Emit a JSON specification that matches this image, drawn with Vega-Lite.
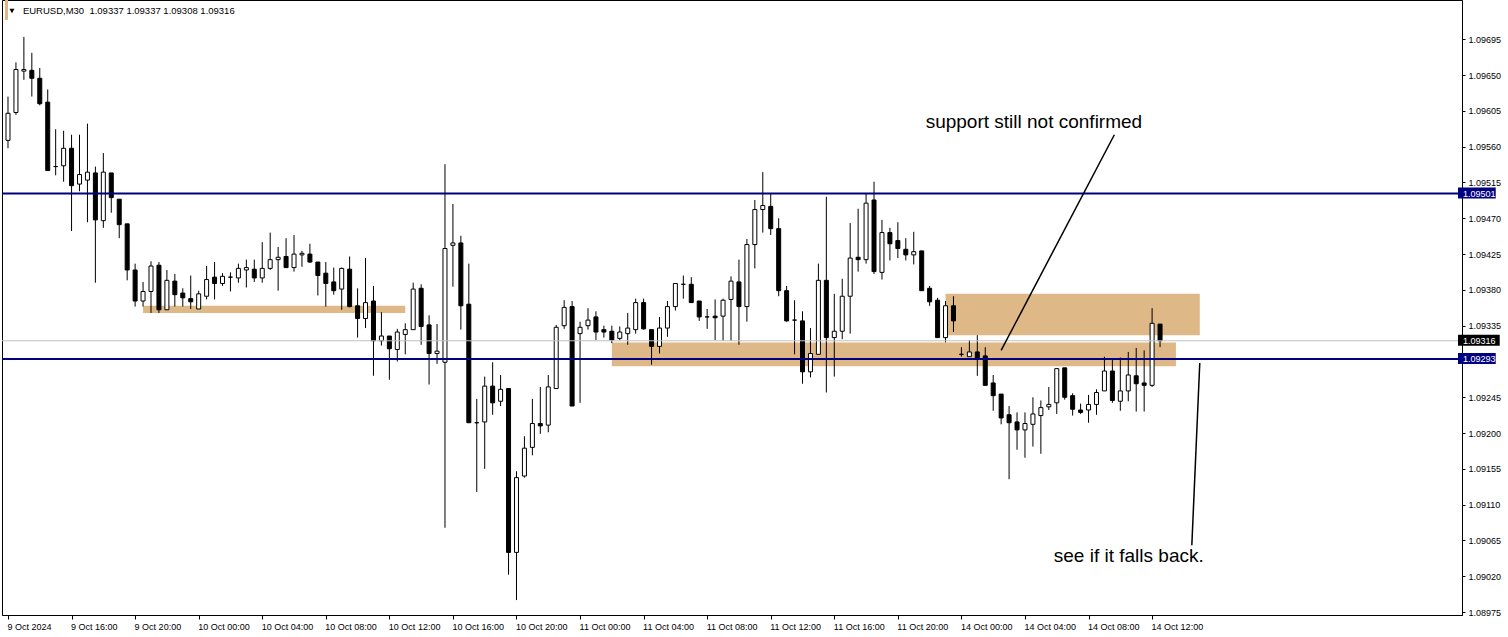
{
  "$schema": "https://vega.github.io/schema/vega-lite/v6.json",
  "width": 1460,
  "height": 615,
  "autosize": {"type": "none"},
  "padding": {"left": 2, "top": 0, "right": 46, "bottom": 22},
  "background": "white",
  "config": {
    "view": {"stroke": "black", "strokeWidth": 1},
    "font": "Liberation Sans",
    "axis": {"grid": false, "title": null, "labelFont": "Liberation Sans", "labelFontSize": 9, "labelColor": "black", "domainColor": "black", "tickColor": "black", "labelOverlap": false, "labelFlush": false, "labelSeparation": 0}
  },
  "datasets": {
    "candles": [
      {"i":0,"o":1.09568,"h":1.09623,"l":1.09558,"c":1.09602},
      {"i":1,"o":1.09603,"h":1.09666,"l":1.09600,"c":1.09657},
      {"i":2,"o":1.09655,"h":1.09698,"l":1.09644,"c":1.09657},
      {"i":3,"o":1.09656,"h":1.09678,"l":1.09623,"c":1.09646},
      {"i":4,"o":1.09646,"h":1.09659,"l":1.09612,"c":1.09614},
      {"i":5,"o":1.09616,"h":1.09632,"l":1.09530,"c":1.09530},
      {"i":6,"o":1.09535,"h":1.09582,"l":1.09524,"c":1.09535},
      {"i":7,"o":1.09536,"h":1.09580,"l":1.09516,"c":1.09558},
      {"i":8,"o":1.09558,"h":1.09575,"l":1.09454,"c":1.09511},
      {"i":9,"o":1.09513,"h":1.09575,"l":1.09504,"c":1.09525},
      {"i":10,"o":1.09518,"h":1.09589,"l":1.09465,"c":1.09528},
      {"i":11,"o":1.09527,"h":1.09535,"l":1.09389,"c":1.09468},
      {"i":12,"o":1.09467,"h":1.09552,"l":1.09458,"c":1.09528},
      {"i":13,"o":1.09527,"h":1.09527,"l":1.09477,"c":1.09496},
      {"i":14,"o":1.09494,"h":1.09494,"l":1.09445,"c":1.09462},
      {"i":15,"o":1.09463,"h":1.09463,"l":1.09392,"c":1.09405},
      {"i":16,"o":1.09405,"h":1.09413,"l":1.09359,"c":1.09366},
      {"i":17,"o":1.09366,"h":1.09390,"l":1.09359,"c":1.09378},
      {"i":18,"o":1.09378,"h":1.09416,"l":1.09351,"c":1.09410},
      {"i":19,"o":1.09411,"h":1.09415,"l":1.09351,"c":1.09355},
      {"i":20,"o":1.09355,"h":1.09405,"l":1.09355,"c":1.09392},
      {"i":21,"o":1.09391,"h":1.09400,"l":1.09359,"c":1.09374},
      {"i":22,"o":1.09376,"h":1.09382,"l":1.09359,"c":1.09370},
      {"i":23,"o":1.09369,"h":1.09398,"l":1.09356,"c":1.09365},
      {"i":24,"o":1.09356,"h":1.09379,"l":1.09356,"c":1.09375},
      {"i":25,"o":1.09372,"h":1.09410,"l":1.09368,"c":1.09393},
      {"i":26,"o":1.09396,"h":1.09415,"l":1.09368,"c":1.09388},
      {"i":27,"o":1.09388,"h":1.09401,"l":1.09385,"c":1.09397},
      {"i":28,"o":1.09396,"h":1.09402,"l":1.09378,"c":1.09396},
      {"i":29,"o":1.09395,"h":1.09413,"l":1.09389,"c":1.09407},
      {"i":30,"o":1.09405,"h":1.09418,"l":1.09383,"c":1.09408},
      {"i":31,"o":1.09406,"h":1.09418,"l":1.09390,"c":1.09395},
      {"i":32,"o":1.09395,"h":1.09440,"l":1.09389,"c":1.09407},
      {"i":33,"o":1.09407,"h":1.09452,"l":1.09405,"c":1.09418},
      {"i":34,"o":1.09418,"h":1.09434,"l":1.09379,"c":1.09421},
      {"i":35,"o":1.09422,"h":1.09445,"l":1.09408,"c":1.09408},
      {"i":36,"o":1.09408,"h":1.09449,"l":1.09403,"c":1.09425},
      {"i":37,"o":1.09424,"h":1.09429,"l":1.09409,"c":1.09426},
      {"i":38,"o":1.09425,"h":1.09438,"l":1.09414,"c":1.09415},
      {"i":39,"o":1.09415,"h":1.09415,"l":1.09373,"c":1.09398},
      {"i":40,"o":1.09401,"h":1.09415,"l":1.09359,"c":1.09388},
      {"i":41,"o":1.09390,"h":1.09408,"l":1.09374,"c":1.09379},
      {"i":42,"o":1.09381,"h":1.09408,"l":1.09355,"c":1.09407},
      {"i":43,"o":1.09406,"h":1.09422,"l":1.09358,"c":1.09359},
      {"i":44,"o":1.09360,"h":1.09382,"l":1.09320,"c":1.09344},
      {"i":45,"o":1.09344,"h":1.09420,"l":1.09332,"c":1.09364},
      {"i":46,"o":1.09366,"h":1.09385,"l":1.09272,"c":1.09316},
      {"i":47,"o":1.09316,"h":1.09352,"l":1.09310,"c":1.09322},
      {"i":48,"o":1.09322,"h":1.09322,"l":1.09267,"c":1.09306},
      {"i":49,"o":1.09305,"h":1.09331,"l":1.09290,"c":1.09327},
      {"i":50,"o":1.09324,"h":1.09338,"l":1.09299,"c":1.09330},
      {"i":51,"o":1.09330,"h":1.09389,"l":1.09330,"c":1.09381},
      {"i":52,"o":1.09382,"h":1.09387,"l":1.09311,"c":1.09334},
      {"i":53,"o":1.09336,"h":1.09348,"l":1.09261,"c":1.09300},
      {"i":54,"o":1.09300,"h":1.09337,"l":1.09287,"c":1.09303},
      {"i":55,"o":1.09289,"h":1.09538,"l":1.09081,"c":1.09432},
      {"i":56,"o":1.09436,"h":1.09488,"l":1.09384,"c":1.09439},
      {"i":57,"o":1.09439,"h":1.09448,"l":1.09330,"c":1.09360},
      {"i":58,"o":1.09362,"h":1.09413,"l":1.09213,"c":1.09213},
      {"i":59,"o":1.09213,"h":1.09243,"l":1.09126,"c":1.09213},
      {"i":60,"o":1.09214,"h":1.09271,"l":1.09155,"c":1.09259},
      {"i":61,"o":1.09259,"h":1.09289,"l":1.09223,"c":1.09238},
      {"i":62,"o":1.09240,"h":1.09273,"l":1.09234,"c":1.09255},
      {"i":63,"o":1.09256,"h":1.09256,"l":1.09022,"c":1.09050},
      {"i":64,"o":1.09050,"h":1.09152,"l":1.08990,"c":1.09144},
      {"i":65,"o":1.09146,"h":1.09196,"l":1.09144,"c":1.09181},
      {"i":66,"o":1.09182,"h":1.09243,"l":1.09172,"c":1.09212},
      {"i":67,"o":1.09212,"h":1.09258,"l":1.09199,"c":1.09209},
      {"i":68,"o":1.09210,"h":1.09273,"l":1.09201,"c":1.09258},
      {"i":69,"o":1.09256,"h":1.09336,"l":1.09256,"c":1.09333},
      {"i":70,"o":1.09335,"h":1.09367,"l":1.09331,"c":1.09358},
      {"i":71,"o":1.09359,"h":1.09366,"l":1.09234,"c":1.09234},
      {"i":72,"o":1.09325,"h":1.09340,"l":1.09238,"c":1.09333},
      {"i":73,"o":1.09335,"h":1.09357,"l":1.09330,"c":1.09342},
      {"i":74,"o":1.09346,"h":1.09353,"l":1.09317,"c":1.09327},
      {"i":75,"o":1.09330,"h":1.09335,"l":1.09320,"c":1.09327},
      {"i":76,"o":1.09328,"h":1.09335,"l":1.09313,"c":1.09317},
      {"i":77,"o":1.09319,"h":1.09334,"l":1.09317,"c":1.09327},
      {"i":78,"o":1.09325,"h":1.09351,"l":1.09311,"c":1.09332},
      {"i":79,"o":1.09330,"h":1.09369,"l":1.09325,"c":1.09364},
      {"i":80,"o":1.09364,"h":1.09369,"l":1.09330,"c":1.09331},
      {"i":81,"o":1.09330,"h":1.09330,"l":1.09286,"c":1.09309},
      {"i":82,"o":1.09309,"h":1.09346,"l":1.09300,"c":1.09332},
      {"i":83,"o":1.09332,"h":1.09366,"l":1.09321,"c":1.09359},
      {"i":84,"o":1.09359,"h":1.09388,"l":1.09354,"c":1.09388},
      {"i":85,"o":1.09387,"h":1.09398,"l":1.09369,"c":1.09387},
      {"i":86,"o":1.09387,"h":1.09396,"l":1.09364,"c":1.09364},
      {"i":87,"o":1.09366,"h":1.09366,"l":1.09341,"c":1.09346},
      {"i":88,"o":1.09346,"h":1.09356,"l":1.09331,"c":1.09346},
      {"i":89,"o":1.09347,"h":1.09368,"l":1.09317,"c":1.09345},
      {"i":90,"o":1.09347,"h":1.09369,"l":1.09316,"c":1.09367},
      {"i":91,"o":1.09368,"h":1.09397,"l":1.09316,"c":1.09391},
      {"i":92,"o":1.09390,"h":1.09418,"l":1.09311,"c":1.09359},
      {"i":93,"o":1.09359,"h":1.09444,"l":1.09340,"c":1.09437},
      {"i":94,"o":1.09437,"h":1.09493,"l":1.09407,"c":1.09481},
      {"i":95,"o":1.09481,"h":1.09528,"l":1.09452,"c":1.09486},
      {"i":96,"o":1.09485,"h":1.09501,"l":1.09449,"c":1.09457},
      {"i":97,"o":1.09457,"h":1.09470,"l":1.09372,"c":1.09379},
      {"i":98,"o":1.09379,"h":1.09385,"l":1.09340,"c":1.09341},
      {"i":99,"o":1.09342,"h":1.09367,"l":1.09299,"c":1.09342},
      {"i":100,"o":1.09341,"h":1.09353,"l":1.09262,"c":1.09277},
      {"i":101,"o":1.09277,"h":1.09332,"l":1.09270,"c":1.09300},
      {"i":102,"o":1.09299,"h":1.09413,"l":1.09299,"c":1.09392},
      {"i":103,"o":1.09392,"h":1.09497,"l":1.09251,"c":1.09320},
      {"i":104,"o":1.09320,"h":1.09375,"l":1.09271,"c":1.09328},
      {"i":105,"o":1.09328,"h":1.09394,"l":1.09318,"c":1.09372},
      {"i":106,"o":1.09372,"h":1.09464,"l":1.09325,"c":1.09420},
      {"i":107,"o":1.09421,"h":1.09482,"l":1.09403,"c":1.09418},
      {"i":108,"o":1.09418,"h":1.09501,"l":1.09413,"c":1.09489},
      {"i":109,"o":1.09493,"h":1.09516,"l":1.09400,"c":1.09403},
      {"i":110,"o":1.09402,"h":1.09468,"l":1.09393,"c":1.09452},
      {"i":111,"o":1.09452,"h":1.09458,"l":1.09417,"c":1.09438},
      {"i":112,"o":1.09442,"h":1.09465,"l":1.09420,"c":1.09432},
      {"i":113,"o":1.09431,"h":1.09445,"l":1.09417,"c":1.09424},
      {"i":114,"o":1.09424,"h":1.09453,"l":1.09412,"c":1.09428},
      {"i":115,"o":1.09429,"h":1.09429,"l":1.09379,"c":1.09379},
      {"i":116,"o":1.09382,"h":1.09385,"l":1.09360,"c":1.09365},
      {"i":117,"o":1.09367,"h":1.09370,"l":1.09320,"c":1.09320},
      {"i":118,"o":1.09320,"h":1.09366,"l":1.09314,"c":1.09360},
      {"i":119,"o":1.09360,"h":1.09372,"l":1.09327,"c":1.09341},
      {"i":120,"o":1.09299,"h":1.09308,"l":1.09296,"c":1.09299},
      {"i":121,"o":1.09296,"h":1.09317,"l":1.09296,"c":1.09302},
      {"i":122,"o":1.09302,"h":1.09323,"l":1.09272,"c":1.09294},
      {"i":123,"o":1.09297,"h":1.09308,"l":1.09260,"c":1.09260},
      {"i":124,"o":1.09263,"h":1.09273,"l":1.09228,"c":1.09247},
      {"i":125,"o":1.09249,"h":1.09249,"l":1.09211,"c":1.09219},
      {"i":126,"o":1.09223,"h":1.09234,"l":1.09142,"c":1.09213},
      {"i":127,"o":1.09214,"h":1.09226,"l":1.09179,"c":1.09204},
      {"i":128,"o":1.09204,"h":1.09226,"l":1.09169,"c":1.09212},
      {"i":129,"o":1.09211,"h":1.09245,"l":1.09183,"c":1.09224},
      {"i":130,"o":1.09222,"h":1.09241,"l":1.09174,"c":1.09232},
      {"i":131,"o":1.09233,"h":1.09258,"l":1.09229,"c":1.09236},
      {"i":132,"o":1.09238,"h":1.09281,"l":1.09224,"c":1.09281},
      {"i":133,"o":1.09282,"h":1.09282,"l":1.09242,"c":1.09245},
      {"i":134,"o":1.09247,"h":1.09250,"l":1.09222,"c":1.09230},
      {"i":135,"o":1.09229,"h":1.09237,"l":1.09224,"c":1.09226},
      {"i":136,"o":1.09229,"h":1.09248,"l":1.09213,"c":1.09236},
      {"i":137,"o":1.09236,"h":1.09255,"l":1.09223,"c":1.09251},
      {"i":138,"o":1.09253,"h":1.09296,"l":1.09253,"c":1.09278},
      {"i":139,"o":1.09278,"h":1.09292,"l":1.09238,"c":1.09241},
      {"i":140,"o":1.09240,"h":1.09295,"l":1.09228,"c":1.09253},
      {"i":141,"o":1.09253,"h":1.09302,"l":1.09240,"c":1.09273},
      {"i":142,"o":1.09272,"h":1.09307,"l":1.09227,"c":1.09262},
      {"i":143,"o":1.09263,"h":1.09304,"l":1.09227,"c":1.09260},
      {"i":144,"o":1.09260,"h":1.09357,"l":1.09258,"c":1.09338},
      {"i":145,"o":1.09337,"h":1.09337,"l":1.09308,"c":1.09316}
    ],
    "zones": [
      {"i1":17,"i2":50,"p1":1.09360,"p2":1.09351},
      {"i1":76,"i2":147,"p1":1.09314,"p2":1.09284},
      {"i1":118,"i2":150,"p1":1.09375,"p2":1.09323}
    ],
    "levels": [{"p":1.09501,"tag":"1.09501"},{"p":1.09293,"tag":"1.09293"}],
    "bid": [{"p":1.09316,"tag":"1.09316"}],
    "trend": [
      {"i1":125,"p1":1.09304,"i2":139.25,"p2":1.09575},
      {"i1":150,"p1":1.09288,"i2":149,"p2":1.09059}
    ],
    "notes": [
      {"i":115.5,"p":1.09591,"txt":"support still not confirmed"},
      {"i":131.625,"p":1.09046,"txt":"see if it falls back."}
    ],
    "header": [{"i":1.875,"p":1.097306,"top":1.097444,"bottom":1.097193,"txt":"EURUSD,M30\u00a0\u00a01.09337 1.09337 1.09308 1.09316"}]
  },
  "layer": [
    {
      "data": {"name": "zones"},
      "mark": {"type": "rect", "fill": "#DEB887", "clip": true},
      "encoding": {
        "x": {"field": "i1", "type": "quantitative", "scale": {"domain": [-0.125, 182.375], "nice": false, "zero": false},
          "axis": {"title": null, "orient": "bottom", "values": [0,8,16,24,32,40,48,56,64,72,80,88,96,104,112,120,128,136,144], "labelExpr": "['9 Oct 2024','9 Oct 16:00','9 Oct 20:00','10 Oct 00:00','10 Oct 04:00','10 Oct 08:00','10 Oct 12:00','10 Oct 16:00','10 Oct 20:00','11 Oct 00:00','11 Oct 04:00','11 Oct 08:00','11 Oct 12:00','11 Oct 16:00','11 Oct 20:00','14 Oct 00:00','14 Oct 04:00','14 Oct 08:00','14 Oct 12:00'][round(datum.value/8)]", "labelAlign": "left", "labelBaseline": "alphabetic", "tickSize": 4, "labelPadding": 10, "labelOffset": -1, "labelOverlap": false}},
        "x2": {"field": "i2"},
        "y": {"field": "p1", "type": "quantitative", "scale": {"domain": [1.089713, 1.097444], "nice": false, "zero": false},
          "axis": {"title": null, "orient": "right", "values": [1.08975,1.0902,1.09065,1.0911,1.09155,1.092,1.09245,1.0929,1.09335,1.0938,1.09425,1.0947,1.09515,1.0956,1.09605,1.0965,1.09695], "labelExpr": "abs(datum.value - 1.0929) < 0.00001 ? '' : format(datum.value, '.5f')", "labelAlign": "left", "labelBaseline": "middle", "tickSize": 3, "labelPadding": 3, "labelOverlap": false}},
        "y2": {"field": "p2"}
      }
    },
    {
      "data": {"name": "candles"},
      "mark": {"type": "rule", "color": "black", "strokeWidth": 1, "clip": true},
      "encoding": {
        "x": {"field": "i", "type": "quantitative", "scale": {"domain": [-0.125, 182.375], "nice": false, "zero": false},
          "axis": {"title": null, "orient": "bottom", "values": [0,8,16,24,32,40,48,56,64,72,80,88,96,104,112,120,128,136,144], "labelExpr": "['9 Oct 2024','9 Oct 16:00','9 Oct 20:00','10 Oct 00:00','10 Oct 04:00','10 Oct 08:00','10 Oct 12:00','10 Oct 16:00','10 Oct 20:00','11 Oct 00:00','11 Oct 04:00','11 Oct 08:00','11 Oct 12:00','11 Oct 16:00','11 Oct 20:00','14 Oct 00:00','14 Oct 04:00','14 Oct 08:00','14 Oct 12:00'][round(datum.value/8)]", "labelAlign": "left", "labelBaseline": "alphabetic", "tickSize": 4, "labelPadding": 10, "labelOffset": -1, "labelOverlap": false}},
        "y": {"field": "l", "type": "quantitative", "scale": {"domain": [1.089713, 1.097444], "nice": false, "zero": false},
          "axis": {"title": null, "orient": "right", "values": [1.08975,1.0902,1.09065,1.0911,1.09155,1.092,1.09245,1.0929,1.09335,1.0938,1.09425,1.0947,1.09515,1.0956,1.09605,1.0965,1.09695], "labelExpr": "abs(datum.value - 1.0929) < 0.00001 ? '' : format(datum.value, '.5f')", "labelAlign": "left", "labelBaseline": "middle", "tickSize": 3, "labelPadding": 3, "labelOverlap": false}},
        "y2": {"field": "h"}
      }
    },
    {
      "data": {"name": "candles"},
      "mark": {"type": "bar", "width": 4, "stroke": "black", "strokeWidth": 1, "clip": true},
      "encoding": {
        "x": {"field": "i", "type": "quantitative", "scale": {"domain": [-0.125, 182.375], "nice": false, "zero": false},
          "axis": {"title": null, "orient": "bottom", "values": [0,8,16,24,32,40,48,56,64,72,80,88,96,104,112,120,128,136,144], "labelExpr": "['9 Oct 2024','9 Oct 16:00','9 Oct 20:00','10 Oct 00:00','10 Oct 04:00','10 Oct 08:00','10 Oct 12:00','10 Oct 16:00','10 Oct 20:00','11 Oct 00:00','11 Oct 04:00','11 Oct 08:00','11 Oct 12:00','11 Oct 16:00','11 Oct 20:00','14 Oct 00:00','14 Oct 04:00','14 Oct 08:00','14 Oct 12:00'][round(datum.value/8)]", "labelAlign": "left", "labelBaseline": "alphabetic", "tickSize": 4, "labelPadding": 10, "labelOffset": -1, "labelOverlap": false}},
        "y": {"field": "o", "type": "quantitative", "scale": {"domain": [1.089713, 1.097444], "nice": false, "zero": false},
          "axis": {"title": null, "orient": "right", "values": [1.08975,1.0902,1.09065,1.0911,1.09155,1.092,1.09245,1.0929,1.09335,1.0938,1.09425,1.0947,1.09515,1.0956,1.09605,1.0965,1.09695], "labelExpr": "abs(datum.value - 1.0929) < 0.00001 ? '' : format(datum.value, '.5f')", "labelAlign": "left", "labelBaseline": "middle", "tickSize": 3, "labelPadding": 3, "labelOverlap": false}},
        "y2": {"field": "c"},
        "fill": {"condition": {"test": "datum.c >= datum.o", "value": "white"}, "value": "black"}
      }
    },
    {
      "data": {"name": "bid"},
      "mark": {"type": "rule", "color": "#C0C0C0", "strokeWidth": 1},
      "encoding": {
        "y": {"field": "p", "type": "quantitative", "scale": {"domain": [1.089713, 1.097444], "nice": false, "zero": false},
          "axis": {"title": null, "orient": "right", "values": [1.08975,1.0902,1.09065,1.0911,1.09155,1.092,1.09245,1.0929,1.09335,1.0938,1.09425,1.0947,1.09515,1.0956,1.09605,1.0965,1.09695], "labelExpr": "abs(datum.value - 1.0929) < 0.00001 ? '' : format(datum.value, '.5f')", "labelAlign": "left", "labelBaseline": "middle", "tickSize": 3, "labelPadding": 3, "labelOverlap": false}}
      }
    },
    {
      "data": {"name": "levels"},
      "mark": {"type": "rule", "color": "#000080", "strokeWidth": 2},
      "encoding": {
        "y": {"field": "p", "type": "quantitative", "scale": {"domain": [1.089713, 1.097444], "nice": false, "zero": false},
          "axis": {"title": null, "orient": "right", "values": [1.08975,1.0902,1.09065,1.0911,1.09155,1.092,1.09245,1.0929,1.09335,1.0938,1.09425,1.0947,1.09515,1.0956,1.09605,1.0965,1.09695], "labelExpr": "abs(datum.value - 1.0929) < 0.00001 ? '' : format(datum.value, '.5f')", "labelAlign": "left", "labelBaseline": "middle", "tickSize": 3, "labelPadding": 3, "labelOverlap": false}}
      }
    },
    {
      "data": {"name": "trend"},
      "mark": {"type": "rule", "color": "black", "strokeWidth": 1.5},
      "encoding": {
        "x": {"field": "i1", "type": "quantitative", "scale": {"domain": [-0.125, 182.375], "nice": false, "zero": false},
          "axis": {"title": null, "orient": "bottom", "values": [0,8,16,24,32,40,48,56,64,72,80,88,96,104,112,120,128,136,144], "labelExpr": "['9 Oct 2024','9 Oct 16:00','9 Oct 20:00','10 Oct 00:00','10 Oct 04:00','10 Oct 08:00','10 Oct 12:00','10 Oct 16:00','10 Oct 20:00','11 Oct 00:00','11 Oct 04:00','11 Oct 08:00','11 Oct 12:00','11 Oct 16:00','11 Oct 20:00','14 Oct 00:00','14 Oct 04:00','14 Oct 08:00','14 Oct 12:00'][round(datum.value/8)]", "labelAlign": "left", "labelBaseline": "alphabetic", "tickSize": 4, "labelPadding": 10, "labelOffset": -1, "labelOverlap": false}},
        "x2": {"field": "i2"},
        "y": {"field": "p1", "type": "quantitative", "scale": {"domain": [1.089713, 1.097444], "nice": false, "zero": false},
          "axis": {"title": null, "orient": "right", "values": [1.08975,1.0902,1.09065,1.0911,1.09155,1.092,1.09245,1.0929,1.09335,1.0938,1.09425,1.0947,1.09515,1.0956,1.09605,1.0965,1.09695], "labelExpr": "abs(datum.value - 1.0929) < 0.00001 ? '' : format(datum.value, '.5f')", "labelAlign": "left", "labelBaseline": "middle", "tickSize": 3, "labelPadding": 3, "labelOverlap": false}},
        "y2": {"field": "p2"}
      }
    },
    {
      "data": {"name": "notes"},
      "mark": {"type": "text", "align": "left", "baseline": "middle", "font": "Liberation Sans", "fontSize": 19, "color": "black"},
      "encoding": {
        "x": {"field": "i", "type": "quantitative", "scale": {"domain": [-0.125, 182.375], "nice": false, "zero": false},
          "axis": {"title": null, "orient": "bottom", "values": [0,8,16,24,32,40,48,56,64,72,80,88,96,104,112,120,128,136,144], "labelExpr": "['9 Oct 2024','9 Oct 16:00','9 Oct 20:00','10 Oct 00:00','10 Oct 04:00','10 Oct 08:00','10 Oct 12:00','10 Oct 16:00','10 Oct 20:00','11 Oct 00:00','11 Oct 04:00','11 Oct 08:00','11 Oct 12:00','11 Oct 16:00','11 Oct 20:00','14 Oct 00:00','14 Oct 04:00','14 Oct 08:00','14 Oct 12:00'][round(datum.value/8)]", "labelAlign": "left", "labelBaseline": "alphabetic", "tickSize": 4, "labelPadding": 10, "labelOffset": -1, "labelOverlap": false}},
        "y": {"field": "p", "type": "quantitative", "scale": {"domain": [1.089713, 1.097444], "nice": false, "zero": false},
          "axis": {"title": null, "orient": "right", "values": [1.08975,1.0902,1.09065,1.0911,1.09155,1.092,1.09245,1.0929,1.09335,1.0938,1.09425,1.0947,1.09515,1.0956,1.09605,1.0965,1.09695], "labelExpr": "abs(datum.value - 1.0929) < 0.00001 ? '' : format(datum.value, '.5f')", "labelAlign": "left", "labelBaseline": "middle", "tickSize": 3, "labelPadding": 3, "labelOverlap": false}},
        "text": {"field": "txt"}
      }
    },
    {
      "data": {"name": "levels"},
      "mark": {"type": "rect", "fill": "#000080", "yOffset": -6, "y2Offset": 5},
      "encoding": {
        "x": {"datum": 182.5, "type": "quantitative", "scale": {"domain": [-0.125, 182.375], "nice": false, "zero": false},
          "axis": {"title": null, "orient": "bottom", "values": [0,8,16,24,32,40,48,56,64,72,80,88,96,104,112,120,128,136,144], "labelExpr": "['9 Oct 2024','9 Oct 16:00','9 Oct 20:00','10 Oct 00:00','10 Oct 04:00','10 Oct 08:00','10 Oct 12:00','10 Oct 16:00','10 Oct 20:00','11 Oct 00:00','11 Oct 04:00','11 Oct 08:00','11 Oct 12:00','11 Oct 16:00','11 Oct 20:00','14 Oct 00:00','14 Oct 04:00','14 Oct 08:00','14 Oct 12:00'][round(datum.value/8)]", "labelAlign": "left", "labelBaseline": "alphabetic", "tickSize": 4, "labelPadding": 10, "labelOffset": -1, "labelOverlap": false}},
        "x2": {"datum": 187.25},
        "y": {"field": "p", "type": "quantitative", "scale": {"domain": [1.089713, 1.097444], "nice": false, "zero": false},
          "axis": {"title": null, "orient": "right", "values": [1.08975,1.0902,1.09065,1.0911,1.09155,1.092,1.09245,1.0929,1.09335,1.0938,1.09425,1.0947,1.09515,1.0956,1.09605,1.0965,1.09695], "labelExpr": "abs(datum.value - 1.0929) < 0.00001 ? '' : format(datum.value, '.5f')", "labelAlign": "left", "labelBaseline": "middle", "tickSize": 3, "labelPadding": 3, "labelOverlap": false}},
        "y2": {"field": "p"}
      }
    },
    {
      "data": {"name": "bid"},
      "mark": {"type": "rect", "fill": "black", "yOffset": -6, "y2Offset": 5},
      "encoding": {
        "x": {"datum": 182.5, "type": "quantitative", "scale": {"domain": [-0.125, 182.375], "nice": false, "zero": false},
          "axis": {"title": null, "orient": "bottom", "values": [0,8,16,24,32,40,48,56,64,72,80,88,96,104,112,120,128,136,144], "labelExpr": "['9 Oct 2024','9 Oct 16:00','9 Oct 20:00','10 Oct 00:00','10 Oct 04:00','10 Oct 08:00','10 Oct 12:00','10 Oct 16:00','10 Oct 20:00','11 Oct 00:00','11 Oct 04:00','11 Oct 08:00','11 Oct 12:00','11 Oct 16:00','11 Oct 20:00','14 Oct 00:00','14 Oct 04:00','14 Oct 08:00','14 Oct 12:00'][round(datum.value/8)]", "labelAlign": "left", "labelBaseline": "alphabetic", "tickSize": 4, "labelPadding": 10, "labelOffset": -1, "labelOverlap": false}},
        "x2": {"datum": 187.75},
        "y": {"field": "p", "type": "quantitative", "scale": {"domain": [1.089713, 1.097444], "nice": false, "zero": false},
          "axis": {"title": null, "orient": "right", "values": [1.08975,1.0902,1.09065,1.0911,1.09155,1.092,1.09245,1.0929,1.09335,1.0938,1.09425,1.0947,1.09515,1.0956,1.09605,1.0965,1.09695], "labelExpr": "abs(datum.value - 1.0929) < 0.00001 ? '' : format(datum.value, '.5f')", "labelAlign": "left", "labelBaseline": "middle", "tickSize": 3, "labelPadding": 3, "labelOverlap": false}},
        "y2": {"field": "p"}
      }
    },
    {
      "data": {"name": "levels"},
      "mark": {"type": "text", "align": "left", "baseline": "middle", "font": "Liberation Sans", "fontSize": 9, "color": "white"},
      "encoding": {
        "x": {"datum": 183.125, "type": "quantitative", "scale": {"domain": [-0.125, 182.375], "nice": false, "zero": false},
          "axis": {"title": null, "orient": "bottom", "values": [0,8,16,24,32,40,48,56,64,72,80,88,96,104,112,120,128,136,144], "labelExpr": "['9 Oct 2024','9 Oct 16:00','9 Oct 20:00','10 Oct 00:00','10 Oct 04:00','10 Oct 08:00','10 Oct 12:00','10 Oct 16:00','10 Oct 20:00','11 Oct 00:00','11 Oct 04:00','11 Oct 08:00','11 Oct 12:00','11 Oct 16:00','11 Oct 20:00','14 Oct 00:00','14 Oct 04:00','14 Oct 08:00','14 Oct 12:00'][round(datum.value/8)]", "labelAlign": "left", "labelBaseline": "alphabetic", "tickSize": 4, "labelPadding": 10, "labelOffset": -1, "labelOverlap": false}},
        "y": {"field": "p", "type": "quantitative", "scale": {"domain": [1.089713, 1.097444], "nice": false, "zero": false},
          "axis": {"title": null, "orient": "right", "values": [1.08975,1.0902,1.09065,1.0911,1.09155,1.092,1.09245,1.0929,1.09335,1.0938,1.09425,1.0947,1.09515,1.0956,1.09605,1.0965,1.09695], "labelExpr": "abs(datum.value - 1.0929) < 0.00001 ? '' : format(datum.value, '.5f')", "labelAlign": "left", "labelBaseline": "middle", "tickSize": 3, "labelPadding": 3, "labelOverlap": false}},
        "text": {"field": "tag"}
      }
    },
    {
      "data": {"name": "bid"},
      "mark": {"type": "text", "align": "left", "baseline": "middle", "font": "Liberation Sans", "fontSize": 9, "color": "white"},
      "encoding": {
        "x": {"datum": 183.125, "type": "quantitative", "scale": {"domain": [-0.125, 182.375], "nice": false, "zero": false},
          "axis": {"title": null, "orient": "bottom", "values": [0,8,16,24,32,40,48,56,64,72,80,88,96,104,112,120,128,136,144], "labelExpr": "['9 Oct 2024','9 Oct 16:00','9 Oct 20:00','10 Oct 00:00','10 Oct 04:00','10 Oct 08:00','10 Oct 12:00','10 Oct 16:00','10 Oct 20:00','11 Oct 00:00','11 Oct 04:00','11 Oct 08:00','11 Oct 12:00','11 Oct 16:00','11 Oct 20:00','14 Oct 00:00','14 Oct 04:00','14 Oct 08:00','14 Oct 12:00'][round(datum.value/8)]", "labelAlign": "left", "labelBaseline": "alphabetic", "tickSize": 4, "labelPadding": 10, "labelOffset": -1, "labelOverlap": false}},
        "y": {"field": "p", "type": "quantitative", "scale": {"domain": [1.089713, 1.097444], "nice": false, "zero": false},
          "axis": {"title": null, "orient": "right", "values": [1.08975,1.0902,1.09065,1.0911,1.09155,1.092,1.09245,1.0929,1.09335,1.0938,1.09425,1.0947,1.09515,1.0956,1.09605,1.0965,1.09695], "labelExpr": "abs(datum.value - 1.0929) < 0.00001 ? '' : format(datum.value, '.5f')", "labelAlign": "left", "labelBaseline": "middle", "tickSize": 3, "labelPadding": 3, "labelOverlap": false}},
        "text": {"field": "tag"}
      }
    },
    {
      "data": {"name": "header"},
      "mark": {"type": "rect", "fill": "#DEB887"},
      "encoding": {
        "x": {"datum": -0.375, "type": "quantitative", "scale": {"domain": [-0.125, 182.375], "nice": false, "zero": false},
          "axis": {"title": null, "orient": "bottom", "values": [0,8,16,24,32,40,48,56,64,72,80,88,96,104,112,120,128,136,144], "labelExpr": "['9 Oct 2024','9 Oct 16:00','9 Oct 20:00','10 Oct 00:00','10 Oct 04:00','10 Oct 08:00','10 Oct 12:00','10 Oct 16:00','10 Oct 20:00','11 Oct 00:00','11 Oct 04:00','11 Oct 08:00','11 Oct 12:00','11 Oct 16:00','11 Oct 20:00','14 Oct 00:00','14 Oct 04:00','14 Oct 08:00','14 Oct 12:00'][round(datum.value/8)]", "labelAlign": "left", "labelBaseline": "alphabetic", "tickSize": 4, "labelPadding": 10, "labelOffset": -1, "labelOverlap": false}},
        "x2": {"datum": 0},
        "y": {"field": "top", "type": "quantitative", "scale": {"domain": [1.089713, 1.097444], "nice": false, "zero": false},
          "axis": {"title": null, "orient": "right", "values": [1.08975,1.0902,1.09065,1.0911,1.09155,1.092,1.09245,1.0929,1.09335,1.0938,1.09425,1.0947,1.09515,1.0956,1.09605,1.0965,1.09695], "labelExpr": "abs(datum.value - 1.0929) < 0.00001 ? '' : format(datum.value, '.5f')", "labelAlign": "left", "labelBaseline": "middle", "tickSize": 3, "labelPadding": 3, "labelOverlap": false}},
        "y2": {"field": "bottom"}
      }
    },
    {
      "data": {"name": "header"},
      "mark": {"type": "text", "align": "left", "baseline": "middle", "font": "Liberation Sans", "fontSize": 9.5, "color": "black"},
      "encoding": {
        "x": {"field": "i", "type": "quantitative", "scale": {"domain": [-0.125, 182.375], "nice": false, "zero": false},
          "axis": {"title": null, "orient": "bottom", "values": [0,8,16,24,32,40,48,56,64,72,80,88,96,104,112,120,128,136,144], "labelExpr": "['9 Oct 2024','9 Oct 16:00','9 Oct 20:00','10 Oct 00:00','10 Oct 04:00','10 Oct 08:00','10 Oct 12:00','10 Oct 16:00','10 Oct 20:00','11 Oct 00:00','11 Oct 04:00','11 Oct 08:00','11 Oct 12:00','11 Oct 16:00','11 Oct 20:00','14 Oct 00:00','14 Oct 04:00','14 Oct 08:00','14 Oct 12:00'][round(datum.value/8)]", "labelAlign": "left", "labelBaseline": "alphabetic", "tickSize": 4, "labelPadding": 10, "labelOffset": -1, "labelOverlap": false}},
        "y": {"field": "p", "type": "quantitative", "scale": {"domain": [1.089713, 1.097444], "nice": false, "zero": false},
          "axis": {"title": null, "orient": "right", "values": [1.08975,1.0902,1.09065,1.0911,1.09155,1.092,1.09245,1.0929,1.09335,1.0938,1.09425,1.0947,1.09515,1.0956,1.09605,1.0965,1.09695], "labelExpr": "abs(datum.value - 1.0929) < 0.00001 ? '' : format(datum.value, '.5f')", "labelAlign": "left", "labelBaseline": "middle", "tickSize": 3, "labelPadding": 3, "labelOverlap": false}},
        "text": {"field": "txt"}
      }
    },
    {
      "data": {"name": "header"},
      "mark": {"type": "point", "shape": "triangle-down", "filled": true, "color": "black", "size": 25, "opacity": 1},
      "encoding": {
        "x": {"datum": 0.5, "type": "quantitative", "scale": {"domain": [-0.125, 182.375], "nice": false, "zero": false},
          "axis": {"title": null, "orient": "bottom", "values": [0,8,16,24,32,40,48,56,64,72,80,88,96,104,112,120,128,136,144], "labelExpr": "['9 Oct 2024','9 Oct 16:00','9 Oct 20:00','10 Oct 00:00','10 Oct 04:00','10 Oct 08:00','10 Oct 12:00','10 Oct 16:00','10 Oct 20:00','11 Oct 00:00','11 Oct 04:00','11 Oct 08:00','11 Oct 12:00','11 Oct 16:00','11 Oct 20:00','14 Oct 00:00','14 Oct 04:00','14 Oct 08:00','14 Oct 12:00'][round(datum.value/8)]", "labelAlign": "left", "labelBaseline": "alphabetic", "tickSize": 4, "labelPadding": 10, "labelOffset": -1, "labelOverlap": false}},
        "y": {"field": "p", "type": "quantitative", "scale": {"domain": [1.089713, 1.097444], "nice": false, "zero": false},
          "axis": {"title": null, "orient": "right", "values": [1.08975,1.0902,1.09065,1.0911,1.09155,1.092,1.09245,1.0929,1.09335,1.0938,1.09425,1.0947,1.09515,1.0956,1.09605,1.0965,1.09695], "labelExpr": "abs(datum.value - 1.0929) < 0.00001 ? '' : format(datum.value, '.5f')", "labelAlign": "left", "labelBaseline": "middle", "tickSize": 3, "labelPadding": 3, "labelOverlap": false}}
      }
    }
  ]
}
